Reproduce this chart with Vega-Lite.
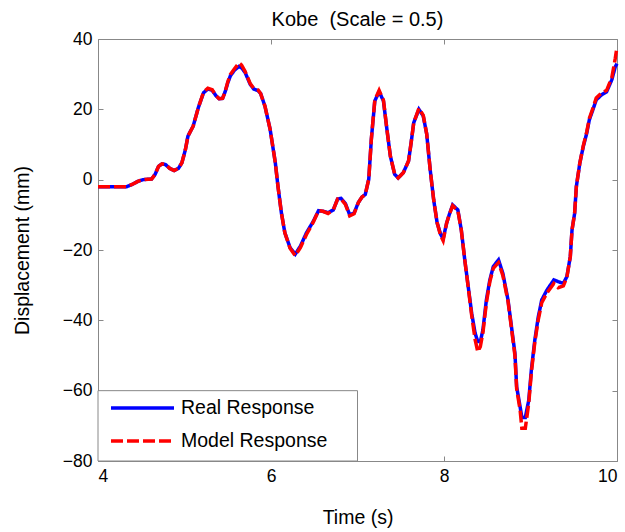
{
  "$schema": "https://vega.github.io/schema/vega-lite/v6.json",
  "width": 519,
  "height": 422,
  "autosize": {"type": "none"},
  "padding": {"left": 98, "top": 39, "right": 8, "bottom": 71},
  "background": "white",
  "title": {"text": "Kobe\u00a0 (Scale = 0.5)", "font": "Liberation Sans", "fontSize": 20, "fontWeight": "normal", "color": "black", "anchor": "middle", "offset": 0},
  "config": {
    "view": {"stroke": "#888888", "strokeWidth": 1},
    "font": "Liberation Sans"
  },
  "datasets": {
    "response": [
      {"time": 4.00, "disp": -2.0, "series": "Real Response"},
      {"time": 4.33, "disp": -2.0, "series": "Real Response"},
      {"time": 4.40, "disp": -1.3, "series": "Real Response"},
      {"time": 4.46, "disp": -0.5, "series": "Real Response"},
      {"time": 4.52, "disp": 0.0, "series": "Real Response"},
      {"time": 4.62, "disp": 0.2, "series": "Real Response"},
      {"time": 4.66, "disp": 1.5, "series": "Real Response"},
      {"time": 4.70, "disp": 3.8, "series": "Real Response"},
      {"time": 4.74, "disp": 4.5, "series": "Real Response"},
      {"time": 4.78, "disp": 4.3, "series": "Real Response"},
      {"time": 4.83, "disp": 3.2, "series": "Real Response"},
      {"time": 4.88, "disp": 2.6, "series": "Real Response"},
      {"time": 4.93, "disp": 3.2, "series": "Real Response"},
      {"time": 4.97, "disp": 4.8, "series": "Real Response"},
      {"time": 5.01, "disp": 8.5, "series": "Real Response"},
      {"time": 5.04, "disp": 12.4, "series": "Real Response"},
      {"time": 5.10, "disp": 15.2, "series": "Real Response"},
      {"time": 5.16, "disp": 20.5, "series": "Real Response"},
      {"time": 5.22, "disp": 24.7, "series": "Real Response"},
      {"time": 5.27, "disp": 25.8, "series": "Real Response"},
      {"time": 5.32, "disp": 25.4, "series": "Real Response"},
      {"time": 5.36, "disp": 24.0, "series": "Real Response"},
      {"time": 5.40, "disp": 23.0, "series": "Real Response"},
      {"time": 5.44, "disp": 23.1, "series": "Real Response"},
      {"time": 5.47, "disp": 25.0, "series": "Real Response"},
      {"time": 5.50, "disp": 27.5, "series": "Real Response"},
      {"time": 5.53, "disp": 29.5, "series": "Real Response"},
      {"time": 5.58, "disp": 31.2, "series": "Real Response"},
      {"time": 5.63, "disp": 32.2, "series": "Real Response"},
      {"time": 5.66, "disp": 31.8, "series": "Real Response"},
      {"time": 5.70, "disp": 30.5, "series": "Real Response"},
      {"time": 5.76, "disp": 27.1, "series": "Real Response"},
      {"time": 5.80, "disp": 25.8, "series": "Real Response"},
      {"time": 5.85, "disp": 25.3, "series": "Real Response"},
      {"time": 5.88, "disp": 24.5, "series": "Real Response"},
      {"time": 5.93, "disp": 20.9, "series": "Real Response"},
      {"time": 5.99, "disp": 14.3, "series": "Real Response"},
      {"time": 6.05, "disp": 4.8, "series": "Real Response"},
      {"time": 6.08, "disp": -1.8, "series": "Real Response"},
      {"time": 6.12, "disp": -9.4, "series": "Real Response"},
      {"time": 6.16, "disp": -15.1, "series": "Real Response"},
      {"time": 6.22, "disp": -19.3, "series": "Real Response"},
      {"time": 6.28, "disp": -21.2, "series": "Real Response"},
      {"time": 6.34, "disp": -18.9, "series": "Real Response"},
      {"time": 6.41, "disp": -15.1, "series": "Real Response"},
      {"time": 6.49, "disp": -11.8, "series": "Real Response"},
      {"time": 6.55, "disp": -8.8, "series": "Real Response"},
      {"time": 6.60, "disp": -9.0, "series": "Real Response"},
      {"time": 6.66, "disp": -9.4, "series": "Real Response"},
      {"time": 6.72, "disp": -8.6, "series": "Real Response"},
      {"time": 6.77, "disp": -5.5, "series": "Real Response"},
      {"time": 6.81, "disp": -5.3, "series": "Real Response"},
      {"time": 6.86, "disp": -6.8, "series": "Real Response"},
      {"time": 6.91, "disp": -10.0, "series": "Real Response"},
      {"time": 6.96, "disp": -9.5, "series": "Real Response"},
      {"time": 7.01, "disp": -6.5, "series": "Real Response"},
      {"time": 7.05, "disp": -5.0, "series": "Real Response"},
      {"time": 7.09, "disp": -4.2, "series": "Real Response"},
      {"time": 7.13, "disp": 0.1, "series": "Real Response"},
      {"time": 7.16, "disp": 11.5, "series": "Real Response"},
      {"time": 7.20, "disp": 22.4, "series": "Real Response"},
      {"time": 7.25, "disp": 25.0, "series": "Real Response"},
      {"time": 7.30, "disp": 22.4, "series": "Real Response"},
      {"time": 7.34, "disp": 14.3, "series": "Real Response"},
      {"time": 7.38, "disp": 6.7, "series": "Real Response"},
      {"time": 7.43, "disp": 1.5, "series": "Real Response"},
      {"time": 7.47, "disp": 0.5, "series": "Real Response"},
      {"time": 7.53, "disp": 2.0, "series": "Real Response"},
      {"time": 7.59, "disp": 5.3, "series": "Real Response"},
      {"time": 7.62, "disp": 10.5, "series": "Real Response"},
      {"time": 7.65, "disp": 16.2, "series": "Real Response"},
      {"time": 7.71, "disp": 20.0, "series": "Real Response"},
      {"time": 7.76, "disp": 18.1, "series": "Real Response"},
      {"time": 7.80, "disp": 13.0, "series": "Real Response"},
      {"time": 7.84, "disp": 2.9, "series": "Real Response"},
      {"time": 7.88, "disp": -5.6, "series": "Real Response"},
      {"time": 7.92, "disp": -12.2, "series": "Real Response"},
      {"time": 7.96, "disp": -15.5, "series": "Real Response"},
      {"time": 7.99, "disp": -16.8, "series": "Real Response"},
      {"time": 8.03, "disp": -12.4, "series": "Real Response"},
      {"time": 8.06, "disp": -10.0, "series": "Real Response"},
      {"time": 8.10, "disp": -7.2, "series": "Real Response"},
      {"time": 8.16, "disp": -8.6, "series": "Real Response"},
      {"time": 8.20, "disp": -14.3, "series": "Real Response"},
      {"time": 8.24, "disp": -22.8, "series": "Real Response"},
      {"time": 8.28, "disp": -30.4, "series": "Real Response"},
      {"time": 8.32, "disp": -38.0, "series": "Real Response"},
      {"time": 8.36, "disp": -43.7, "series": "Real Response"},
      {"time": 8.39, "disp": -46.0, "series": "Real Response"},
      {"time": 8.42, "disp": -46.1, "series": "Real Response"},
      {"time": 8.45, "disp": -42.7, "series": "Real Response"},
      {"time": 8.49, "disp": -34.2, "series": "Real Response"},
      {"time": 8.53, "disp": -28.5, "series": "Real Response"},
      {"time": 8.57, "disp": -24.7, "series": "Real Response"},
      {"time": 8.63, "disp": -22.8, "series": "Real Response"},
      {"time": 8.68, "disp": -26.6, "series": "Real Response"},
      {"time": 8.74, "disp": -34.2, "series": "Real Response"},
      {"time": 8.78, "disp": -41.8, "series": "Real Response"},
      {"time": 8.82, "disp": -49.4, "series": "Real Response"},
      {"time": 8.84, "disp": -58.9, "series": "Real Response"},
      {"time": 8.88, "disp": -64.6, "series": "Real Response"},
      {"time": 8.90, "disp": -67.6, "series": "Real Response"},
      {"time": 8.94, "disp": -67.6, "series": "Real Response"},
      {"time": 8.98, "disp": -62.7, "series": "Real Response"},
      {"time": 9.01, "disp": -54.1, "series": "Real Response"},
      {"time": 9.05, "disp": -45.6, "series": "Real Response"},
      {"time": 9.09, "disp": -39.0, "series": "Real Response"},
      {"time": 9.13, "disp": -34.2, "series": "Real Response"},
      {"time": 9.19, "disp": -31.4, "series": "Real Response"},
      {"time": 9.27, "disp": -28.5, "series": "Real Response"},
      {"time": 9.32, "disp": -29.0, "series": "Real Response"},
      {"time": 9.38, "disp": -29.5, "series": "Real Response"},
      {"time": 9.42, "disp": -27.6, "series": "Real Response"},
      {"time": 9.46, "disp": -21.9, "series": "Real Response"},
      {"time": 9.48, "disp": -14.3, "series": "Real Response"},
      {"time": 9.51, "disp": -9.6, "series": "Real Response"},
      {"time": 9.53, "disp": -2.0, "series": "Real Response"},
      {"time": 9.57, "disp": 4.7, "series": "Real Response"},
      {"time": 9.61, "disp": 9.4, "series": "Real Response"},
      {"time": 9.65, "disp": 13.2, "series": "Real Response"},
      {"time": 9.68, "disp": 17.0, "series": "Real Response"},
      {"time": 9.72, "disp": 19.8, "series": "Real Response"},
      {"time": 9.76, "disp": 22.7, "series": "Real Response"},
      {"time": 9.82, "disp": 24.1, "series": "Real Response"},
      {"time": 9.88, "disp": 25.0, "series": "Real Response"},
      {"time": 9.94, "disp": 28.4, "series": "Real Response"},
      {"time": 9.98, "disp": 32.1, "series": "Real Response"},
      {"time": 10.00, "disp": 33.0, "series": "Real Response"},

      {"time": 4.00, "disp": -2.0, "series": "Model Response"},
      {"time": 4.33, "disp": -2.0, "series": "Model Response"},
      {"time": 4.40, "disp": -1.3, "series": "Model Response"},
      {"time": 4.46, "disp": -0.5, "series": "Model Response"},
      {"time": 4.52, "disp": 0.0, "series": "Model Response"},
      {"time": 4.62, "disp": 0.2, "series": "Model Response"},
      {"time": 4.66, "disp": 1.5, "series": "Model Response"},
      {"time": 4.70, "disp": 3.8, "series": "Model Response"},
      {"time": 4.74, "disp": 4.5, "series": "Model Response"},
      {"time": 4.78, "disp": 4.3, "series": "Model Response"},
      {"time": 4.83, "disp": 3.2, "series": "Model Response"},
      {"time": 4.88, "disp": 2.6, "series": "Model Response"},
      {"time": 4.93, "disp": 3.2, "series": "Model Response"},
      {"time": 4.97, "disp": 4.8, "series": "Model Response"},
      {"time": 5.01, "disp": 8.5, "series": "Model Response"},
      {"time": 5.04, "disp": 12.4, "series": "Model Response"},
      {"time": 5.10, "disp": 15.2, "series": "Model Response"},
      {"time": 5.16, "disp": 20.5, "series": "Model Response"},
      {"time": 5.22, "disp": 24.9, "series": "Model Response"},
      {"time": 5.27, "disp": 26.0, "series": "Model Response"},
      {"time": 5.32, "disp": 25.6, "series": "Model Response"},
      {"time": 5.36, "disp": 24.0, "series": "Model Response"},
      {"time": 5.40, "disp": 23.0, "series": "Model Response"},
      {"time": 5.44, "disp": 23.1, "series": "Model Response"},
      {"time": 5.47, "disp": 25.0, "series": "Model Response"},
      {"time": 5.50, "disp": 27.8, "series": "Model Response"},
      {"time": 5.53, "disp": 29.9, "series": "Model Response"},
      {"time": 5.58, "disp": 31.6, "series": "Model Response"},
      {"time": 5.63, "disp": 33.2, "series": "Model Response"},
      {"time": 5.66, "disp": 32.6, "series": "Model Response"},
      {"time": 5.70, "disp": 30.8, "series": "Model Response"},
      {"time": 5.76, "disp": 27.3, "series": "Model Response"},
      {"time": 5.80, "disp": 26.0, "series": "Model Response"},
      {"time": 5.85, "disp": 25.5, "series": "Model Response"},
      {"time": 5.88, "disp": 24.5, "series": "Model Response"},
      {"time": 5.93, "disp": 20.9, "series": "Model Response"},
      {"time": 5.99, "disp": 14.3, "series": "Model Response"},
      {"time": 6.05, "disp": 4.8, "series": "Model Response"},
      {"time": 6.08, "disp": -1.8, "series": "Model Response"},
      {"time": 6.12, "disp": -9.4, "series": "Model Response"},
      {"time": 6.16, "disp": -15.1, "series": "Model Response"},
      {"time": 6.22, "disp": -19.5, "series": "Model Response"},
      {"time": 6.28, "disp": -21.6, "series": "Model Response"},
      {"time": 6.34, "disp": -19.3, "series": "Model Response"},
      {"time": 6.41, "disp": -15.6, "series": "Model Response"},
      {"time": 6.49, "disp": -12.0, "series": "Model Response"},
      {"time": 6.55, "disp": -8.8, "series": "Model Response"},
      {"time": 6.60, "disp": -9.0, "series": "Model Response"},
      {"time": 6.66, "disp": -9.6, "series": "Model Response"},
      {"time": 6.72, "disp": -8.6, "series": "Model Response"},
      {"time": 6.77, "disp": -5.5, "series": "Model Response"},
      {"time": 6.81, "disp": -5.5, "series": "Model Response"},
      {"time": 6.86, "disp": -7.0, "series": "Model Response"},
      {"time": 6.91, "disp": -10.3, "series": "Model Response"},
      {"time": 6.96, "disp": -9.7, "series": "Model Response"},
      {"time": 7.01, "disp": -6.5, "series": "Model Response"},
      {"time": 7.05, "disp": -5.0, "series": "Model Response"},
      {"time": 7.09, "disp": -4.2, "series": "Model Response"},
      {"time": 7.13, "disp": 0.1, "series": "Model Response"},
      {"time": 7.16, "disp": 11.5, "series": "Model Response"},
      {"time": 7.20, "disp": 22.6, "series": "Model Response"},
      {"time": 7.25, "disp": 25.4, "series": "Model Response"},
      {"time": 7.30, "disp": 22.6, "series": "Model Response"},
      {"time": 7.34, "disp": 14.3, "series": "Model Response"},
      {"time": 7.38, "disp": 6.7, "series": "Model Response"},
      {"time": 7.43, "disp": 1.5, "series": "Model Response"},
      {"time": 7.47, "disp": 0.5, "series": "Model Response"},
      {"time": 7.53, "disp": 2.0, "series": "Model Response"},
      {"time": 7.59, "disp": 5.3, "series": "Model Response"},
      {"time": 7.62, "disp": 10.5, "series": "Model Response"},
      {"time": 7.65, "disp": 16.2, "series": "Model Response"},
      {"time": 7.71, "disp": 20.3, "series": "Model Response"},
      {"time": 7.76, "disp": 18.3, "series": "Model Response"},
      {"time": 7.80, "disp": 13.0, "series": "Model Response"},
      {"time": 7.84, "disp": 2.9, "series": "Model Response"},
      {"time": 7.88, "disp": -5.6, "series": "Model Response"},
      {"time": 7.92, "disp": -12.2, "series": "Model Response"},
      {"time": 7.96, "disp": -15.8, "series": "Model Response"},
      {"time": 7.99, "disp": -17.3, "series": "Model Response"},
      {"time": 8.03, "disp": -12.4, "series": "Model Response"},
      {"time": 8.06, "disp": -10.0, "series": "Model Response"},
      {"time": 8.10, "disp": -7.4, "series": "Model Response"},
      {"time": 8.16, "disp": -8.8, "series": "Model Response"},
      {"time": 8.20, "disp": -14.3, "series": "Model Response"},
      {"time": 8.24, "disp": -22.8, "series": "Model Response"},
      {"time": 8.28, "disp": -30.6, "series": "Model Response"},
      {"time": 8.32, "disp": -38.6, "series": "Model Response"},
      {"time": 8.36, "disp": -45.5, "series": "Model Response"},
      {"time": 8.39, "disp": -48.9, "series": "Model Response"},
      {"time": 8.42, "disp": -47.5, "series": "Model Response"},
      {"time": 8.45, "disp": -43.5, "series": "Model Response"},
      {"time": 8.49, "disp": -35.0, "series": "Model Response"},
      {"time": 8.53, "disp": -29.0, "series": "Model Response"},
      {"time": 8.57, "disp": -25.2, "series": "Model Response"},
      {"time": 8.63, "disp": -23.6, "series": "Model Response"},
      {"time": 8.68, "disp": -27.2, "series": "Model Response"},
      {"time": 8.74, "disp": -34.6, "series": "Model Response"},
      {"time": 8.78, "disp": -42.3, "series": "Model Response"},
      {"time": 8.82, "disp": -50.0, "series": "Model Response"},
      {"time": 8.84, "disp": -59.5, "series": "Model Response"},
      {"time": 8.88, "disp": -65.5, "series": "Model Response"},
      {"time": 8.90, "disp": -70.7, "series": "Model Response"},
      {"time": 8.94, "disp": -70.7, "series": "Model Response"},
      {"time": 8.98, "disp": -63.5, "series": "Model Response"},
      {"time": 9.01, "disp": -54.8, "series": "Model Response"},
      {"time": 9.05, "disp": -46.2, "series": "Model Response"},
      {"time": 9.09, "disp": -39.8, "series": "Model Response"},
      {"time": 9.13, "disp": -35.0, "series": "Model Response"},
      {"time": 9.19, "disp": -32.2, "series": "Model Response"},
      {"time": 9.27, "disp": -29.5, "series": "Model Response"},
      {"time": 9.32, "disp": -30.7, "series": "Model Response"},
      {"time": 9.38, "disp": -30.2, "series": "Model Response"},
      {"time": 9.42, "disp": -27.8, "series": "Model Response"},
      {"time": 9.46, "disp": -21.9, "series": "Model Response"},
      {"time": 9.48, "disp": -14.3, "series": "Model Response"},
      {"time": 9.51, "disp": -9.6, "series": "Model Response"},
      {"time": 9.53, "disp": -2.0, "series": "Model Response"},
      {"time": 9.57, "disp": 4.7, "series": "Model Response"},
      {"time": 9.61, "disp": 9.6, "series": "Model Response"},
      {"time": 9.65, "disp": 13.6, "series": "Model Response"},
      {"time": 9.68, "disp": 17.4, "series": "Model Response"},
      {"time": 9.72, "disp": 20.2, "series": "Model Response"},
      {"time": 9.76, "disp": 23.2, "series": "Model Response"},
      {"time": 9.82, "disp": 24.6, "series": "Model Response"},
      {"time": 9.88, "disp": 25.4, "series": "Model Response"},
      {"time": 9.94, "disp": 29.0, "series": "Model Response"},
      {"time": 9.98, "disp": 34.5, "series": "Model Response"},
      {"time": 10.00, "disp": 37.8, "series": "Model Response"}
    ]
  },
  "resolve": {"axis": {"x": "independent", "y": "independent"}},
  "layer": [
    {
      "data": {"values": [{}]},
      "mark": {"type": "rect", "fill": "white", "stroke": "#888888", "strokeWidth": 1},
      "encoding": {
        "x": {"datum": 4, "type": "quantitative", "scale": {"domain": [4, 10], "nice": false, "zero": false}, "axis": null},
        "x2": {"datum": 7},
        "y": {"datum": -80, "type": "quantitative", "scale": {"domain": [-80, 40], "nice": false, "zero": false}, "axis": null},
        "y2": {"datum": -60}
      }
    },
    {
      "data": {"name": "response"},
      "transform": [{"filter": "datum.series === 'Real Response'"}],
      "mark": {"type": "line", "strokeWidth": 3.5},
      "encoding": {
        "x": {
          "field": "time", "type": "quantitative",
          "scale": {"domain": [4, 10], "nice": false, "zero": false},
          "axis": {
            "orient": "bottom", "values": [4, 6, 8, 10], "title": "Time (s)",
            "grid": false, "domain": false, "tickSize": -5, "tickColor": "#888888",
            "labelFont": "Liberation Sans", "labelFontSize": 17.5, "labelColor": "black", "labelPadding": 11,
            "titleFont": "Liberation Sans", "titleFontSize": 19.5, "titleFontWeight": "normal", "titleColor": "black", "titlePadding": 24
          }
        },
        "y": {
          "field": "disp", "type": "quantitative",
          "scale": {"domain": [-80, 40], "nice": false, "zero": false},
          "axis": {
            "orient": "left", "values": [-80, -60, -40, -20, 0, 20, 40], "title": "Displacement (mm)",
            "grid": false, "domain": false, "tickSize": -5, "tickColor": "#888888",
            "labelFont": "Liberation Sans", "labelFontSize": 17.5, "labelColor": "black", "labelPadding": 11,
            "titleFont": "Liberation Sans", "titleFontSize": 19.5, "titleFontWeight": "normal", "titleColor": "black", "titlePadding": 30
          }
        },
        "color": {
          "field": "series", "type": "nominal",
          "scale": {"domain": ["Real Response", "Model Response"], "range": ["#0000ff", "#ff0000"]},
          "legend": {
            "orient": "none", "legendX": 11, "legendY": 359, "title": null, "padding": 0,
            "symbolType": "stroke", "symbolSize": 3969, "symbolStrokeWidth": 3.5, "clipHeight": 20,
            "rowPadding": 13, "symbolOffset": 0, "labelOffset": 5, "labelLimit": 300,
            "labelFont": "Liberation Sans", "labelFontSize": 19.5, "labelColor": "black"
          }
        },
        "strokeDash": {
          "field": "series", "type": "nominal",
          "scale": {"domain": ["Real Response", "Model Response"], "range": [[1, 0], [12, 4]]},
          "legend": {
            "orient": "none", "legendX": 11, "legendY": 359, "title": null, "padding": 0,
            "symbolType": "stroke", "symbolSize": 3969, "symbolStrokeWidth": 3.5, "clipHeight": 20,
            "rowPadding": 13, "symbolOffset": 0, "labelOffset": 5, "labelLimit": 300,
            "labelFont": "Liberation Sans", "labelFontSize": 19.5, "labelColor": "black"
          }
        }
      }
    },
    {
      "data": {"name": "response"},
      "transform": [{"filter": "datum.series === 'Model Response'"}],
      "mark": {"type": "line", "strokeWidth": 3.5},
      "encoding": {
        "x": {
          "field": "time", "type": "quantitative",
          "scale": {"domain": [4, 10], "nice": false, "zero": false},
          "axis": {"orient": "top", "values": [4, 6, 8, 10], "labels": false, "title": null, "grid": false, "domain": false, "tickSize": -5, "tickColor": "#888888"}
        },
        "y": {
          "field": "disp", "type": "quantitative",
          "scale": {"domain": [-80, 40], "nice": false, "zero": false},
          "axis": {"orient": "right", "values": [-80, -60, -40, -20, 0, 20, 40], "labels": false, "title": null, "grid": false, "domain": false, "tickSize": -5, "tickColor": "#888888"}
        },
        "color": {"field": "series", "type": "nominal", "scale": {"domain": ["Real Response", "Model Response"], "range": ["#0000ff", "#ff0000"]}},
        "strokeDash": {"field": "series", "type": "nominal", "scale": {"domain": ["Real Response", "Model Response"], "range": [[1, 0], [12, 4]]}}
      }
    }
  ]
}
